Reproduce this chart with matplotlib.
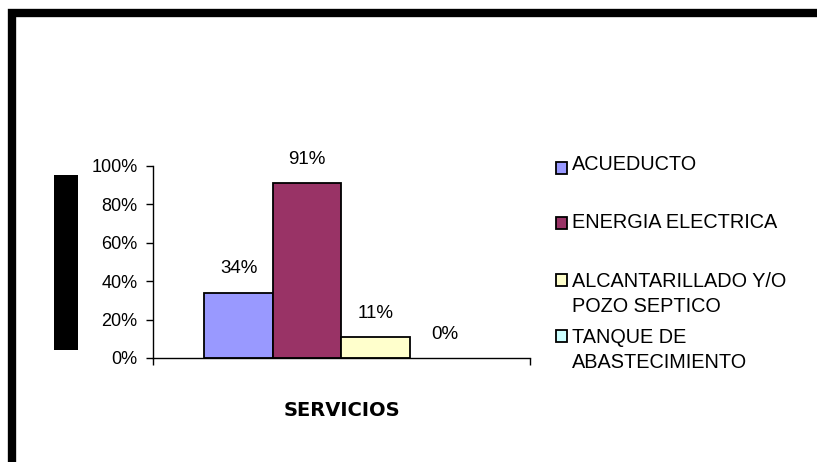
import matplotlib.pyplot as plt
from matplotlib.patches import Rectangle
from matplotlib.ticker import PercentFormatter

# datos
servicios = ["ACUEDUCTO", "ENERGIA ELECTRICA", "ALCANTARILLADO Y/O\nPOZO SEPTICO",
             "TANQUE DE\nABASTECIMIENTO"]
porcentajes = [0.34, 0.91, 0.11, 0.0]
colores = ["#9999FF", "#993366", "#FFFFCC", "#CCFFFF"]
eje_x = "SERVICIOS"

W, H = 817, 462
plt.rcParams['font.family'] = ['Liberation Sans', 'DejaVu Sans']

fig = plt.figure(figsize=(W / 100, H / 100), dpi=100)
ax = fig.add_axes([153 / W, 1 - 358 / H, 377 / W, 192 / H])

ancho = 0.182
for i, (v, c) in enumerate(zip(porcentajes, colores)):
    x = (i - 1.5) * ancho
    ax.bar(x, v, ancho, color=c, edgecolor="black", linewidth=1.3 if v > 0 else 0)
    ax.annotate("{:.0%}".format(v), (x, v), xytext=(0, 11), textcoords="offset points",
                ha="center", va="bottom", fontsize=13.5)

ax.set_xlim(-0.5, 0.5)
ax.set_ylim(0, 1)
ax.set_yticks([0, 0.2, 0.4, 0.6, 0.8, 1.0])
ax.yaxis.set_major_formatter(PercentFormatter(1.0, decimals=0))
ax.set_xticks([-0.5, 0.5])
ax.set_xticklabels([])
ax.tick_params(direction="out", length=5, width=1, labelsize=13, pad=6)
for s in ["top", "right"]:
    ax.spines[s].set_visible(False)
for s in ["left", "bottom"]:
    ax.spines[s].set_linewidth(1)
ax.set_xlabel(eje_x, fontsize=14, fontweight="bold", family="DejaVu Sans", labelpad=20)

# leyenda manual: centro del cuadro y desplazamiento del texto (px)
cuadro_y = [168, 223, 280, 336]
texto_dy = [-13, -10, -8, -8]
for nombre, c, y, dy in zip(servicios, colores, cuadro_y, texto_dy):
    fig.add_artist(Rectangle((556 / W, 1 - (y + 6) / H), 11 / W, 12 / H,
                             transform=fig.transFigure, facecolor=c,
                             edgecolor="black", linewidth=1.3))
    fig.text(572 / W, 1 - (y + dy) / H, nombre, ha="left", va="top",
             fontsize=14.3, linespacing=1.4)

# bloque negro (titulo del eje oculto)
fig.add_artist(Rectangle((54 / W, 1 - 350 / H), 24 / W, 175 / H,
                         transform=fig.transFigure, facecolor="black", edgecolor="none"))

# marco
fig.add_artist(Rectangle((12 / W, -0.2), 1.2, 1 - 13 / H + 0.2,
                         transform=fig.transFigure, facecolor="none",
                         edgecolor="black", linewidth=6))

fig.savefig("out.png", dpi=100)
